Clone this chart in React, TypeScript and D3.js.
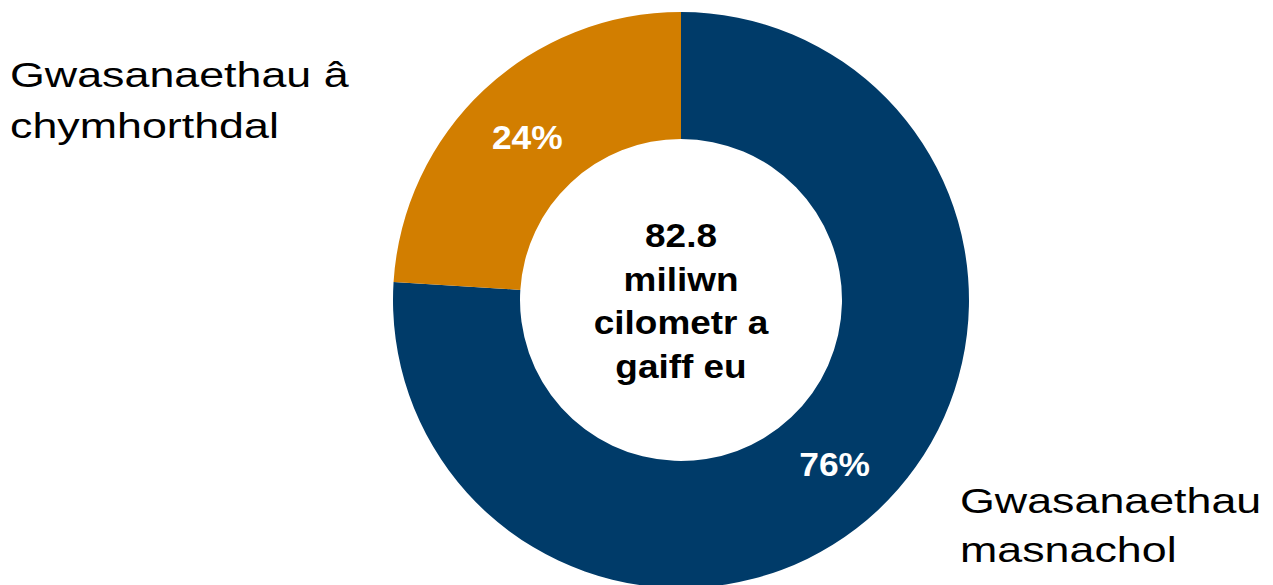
import React from "react";
import * as d3 from "d3";

const categories = ["Gwasanaethau masnachol", "Gwasanaethau â chymhorthdal"];
const values = [76, 24];
const valueLabels = ["76%", "24%"];
const colors = ["#003B69", "#D27E00"];
const centerLines = ["82.8", "miliwn", "cilometr a", "gaiff eu"];
const leftLabelLines = ["Gwasanaethau â", "chymhorthdal"];
const rightLabelLines = ["Gwasanaethau", "masnachol"];

const W = 1273;
const H = 585;
const cx = 681;
const cy = 300;
const outerR = 288;
const innerR = 161;
const FONT = "'Liberation Sans', Arial, sans-serif";

export default function App() {
  const pie = d3
    .pie<number>()
    .sort(null)
    .startAngle(0)
    .endAngle(2 * Math.PI)
    .value((d) => d);
  const arcs = pie(values);
  const arc = d3.arc<d3.PieArcDatum<number>>().innerRadius(innerR).outerRadius(outerR);

  return (
    <svg
      width={W}
      height={H}
      style={{ position: "absolute", left: 0, top: 0, background: "#fff" }}
      fontFamily={FONT}
    >
      <g transform={`translate(${cx},${cy})`}>
        {arcs.map((a, i) => (
          <path key={categories[i]} d={arc(a) || ""} fill={colors[i]} />
        ))}
        {arcs.map((a, i) => {
          const [x, y] = arc.centroid(a);
          return (
            <text
              key={"v" + i}
              transform={`translate(${x},${y + 1}) scale(1.04,1)`}
              textAnchor="middle"
              dominantBaseline="central"
              fill="#fff"
              fontWeight="bold"
              fontSize={34}
            >
              {valueLabels[i]}
            </text>
          );
        })}
        {centerLines.map((t, i) => (
          <text
            key={"c" + i}
            transform={`translate(0,${-53 + i * 43.5}) scale(1.12,1)`}
            textAnchor="middle"
            fill="#000"
            fontWeight="bold"
            fontSize={33}
          >
            {t}
          </text>
        ))}
      </g>
      {leftLabelLines.map((t, i) => (
        <text
          key={"l" + i}
          transform={`translate(10,${87 + i * 50.5}) scale(1.28,1)`}
          fill="#000"
          fontSize={35}
        >
          {t}
        </text>
      ))}
      {rightLabelLines.map((t, i) => (
        <text
          key={"r" + i}
          transform={`translate(960,${512.5 + i * 49.5}) scale(1.28,1)`}
          fill="#000"
          fontSize={35}
        >
          {t}
        </text>
      ))}
    </svg>
  );
}
